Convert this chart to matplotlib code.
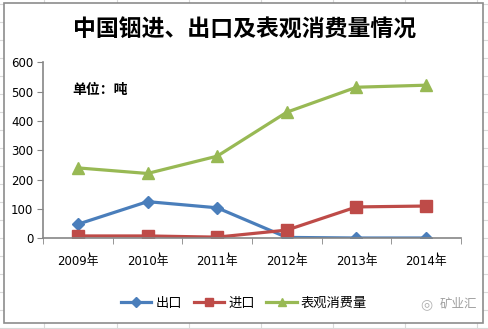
"""China indium import / export / apparent consumption chart."""
import matplotlib
matplotlib.use("Agg")
import matplotlib.pyplot as plt
from matplotlib.patches import Rectangle

plt.rcParams["font.family"] = ["DejaVu Sans", "Noto Sans CJK SC"]

years = ["2009年", "2010年", "2011年", "2012年", "2013年", "2014年"]
export = [48, 125, 104, 3, 1, 1]
imports = [8, 8, 4, 28, 107, 110]
consumption = [240, 221, 280, 430, 515, 522]
yticks = [0, 100, 200, 300, 400, 500, 600]

W, H = 488, 329
fig = plt.figure(figsize=(W / 100, H / 100), dpi=100)

# spreadsheet grid behind the chart object
bg = fig.add_axes([0, 0, 1, 1])
bg.set_xlim(0, W)
bg.set_ylim(H, 0)
bg.axis("off")
for x in [44, 117, 189, 261, 333, 405, 477]:
    bg.axvline(x, color="#d9d9d9", lw=0.8, zorder=1)
for y in range(4, H, 18):
    bg.axhline(y, color="#d9d9d9", lw=0.8, zorder=1)
bg.add_patch(Rectangle((4, 3), 479, 320, facecolor="white",
                       edgecolor="#8c8c8c", lw=1.2, zorder=5))

ax = fig.add_axes([43 / W, 1 - 238.3 / H, 418 / W, 176 / H])
ax.patch.set_alpha(0)
x = range(len(years))
ax.plot(x, export, color="#4A7EBB", lw=2.3, marker="D", ms=6,
        label="出口")
ax.plot(x, imports, color="#BE4B48", lw=2.3, marker="s", ms=8,
        label="进口")
ax.plot(x, consumption, color="#98B954", lw=2.3, marker="^", ms=8,
        label="表观消费量")

ax.set_xlim(-0.5, len(years) - 0.5)
ax.set_ylim(0, 600)
ax.set_yticks(yticks)
ax.set_xticks(list(x))
ax.set_xticklabels(years)
ax.set_xticks([i - 0.5 for i in range(len(years) + 1)], minor=True)
ax.tick_params(axis="x", which="major", length=0, pad=12, labelsize=8.5)
ax.tick_params(axis="x", which="minor", length=4, color="#868686")
ax.tick_params(axis="y", length=4, color="#868686", labelsize=8.5, pad=3)
for s in ["top", "right"]:
    ax.spines[s].set_visible(False)
for s in ["left", "bottom"]:
    ax.spines[s].set_color("#868686")
    ax.spines[s].set_linewidth(1.2)

# small marks under the axis seen in the original
ax.vlines([i + 0.16 for i in x], -60, -47, color="black", lw=0.8,
          clip_on=False)

fig.text(245 / W, 1 - 30 / H, "中国铟进、出口及表观消费量情况",
         family=["Noto Sans CJK SC"], fontsize=16.5, fontweight="bold",
         ha="center", va="center")
fig.text(72 / W, 1 - 90 / H, "单位：吨", family=["Noto Sans CJK SC"],
         fontsize=10, fontweight="bold", ha="left", va="center")

fig.legend(loc="center", bbox_to_anchor=(244 / W, 1 - 303 / H), ncol=3,
           frameon=False, fontsize=9.5, handlelength=2.3, columnspacing=0.9,
           handletextpad=0.3, markerscale=0.8)

fig.text(440 / W, 1 - 304 / H, "矿业汇", family=["Noto Sans CJK SC"],
         fontsize=9, color="#a0a0a0", ha="left", va="center")
fig.text(420 / W, 1 - 304 / H, "◎", fontsize=10, color="#b0b0b0",
         ha="left", va="center")

fig.savefig("out.png", dpi=100)
